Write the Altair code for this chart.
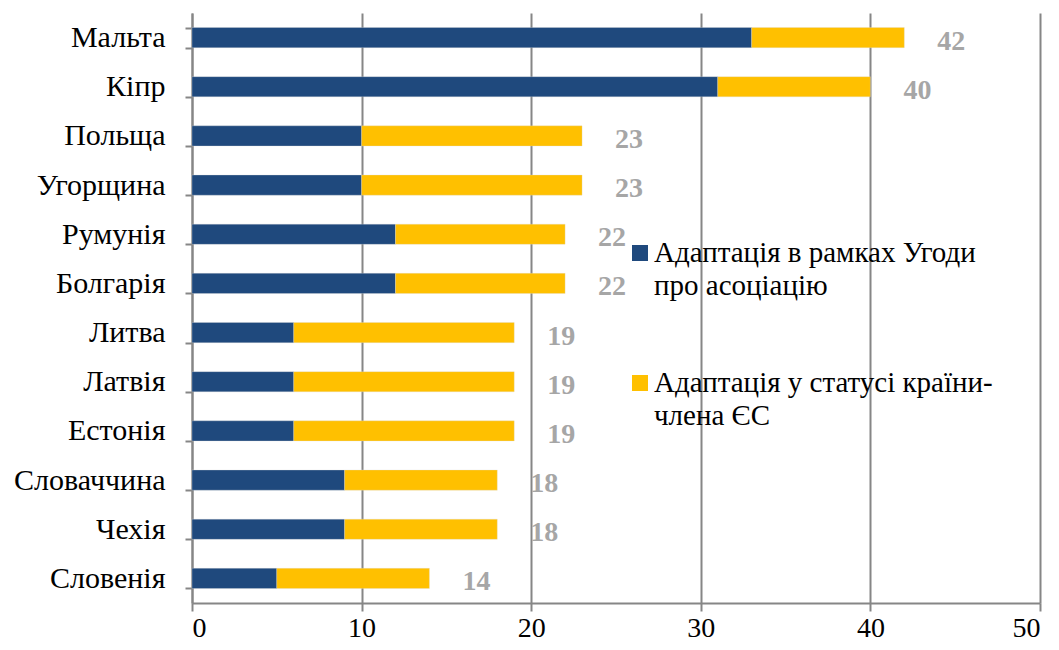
import altair as alt
import pandas as pd

countries = ["Мальта", "Кіпр", "Польща", "Угорщина", "Румунія", "Болгарія",
             "Литва", "Латвія", "Естонія", "Словаччина", "Чехія", "Словенія"]
assoc = [33, 31, 10, 10, 12, 12, 6, 6, 6, 9, 9, 5]
member = [9, 9, 13, 13, 10, 10, 13, 13, 13, 9, 9, 9]
totals = [42, 40, 23, 23, 22, 22, 19, 19, 19, 18, 18, 14]
series = ["Адаптація в рамках Угоди|про асоціацію",
          "Адаптація у статусі країни-|члена ЄС"]
colors = ["#1F497D", "#FFC000"]

rows = []
for c, a, m in zip(countries, assoc, member):
    rows.append({"country": c, "series": series[0], "value": a, "ord": 0})
    rows.append({"country": c, "series": series[1], "value": m, "ord": 1})
df = pd.DataFrame(rows)
tdf = pd.DataFrame({"country": countries, "total": totals})

FONT = "Liberation Serif"
MFONT = "Times New Roman"

yenc = alt.Y("country:N", sort=countries, title=None,
             scale=alt.Scale(paddingInner=0.59, paddingOuter=0.295),
             axis=alt.Axis(labelFont=FONT, labelFontSize=30, labelColor="#000000",
                           domainColor="#868686", domainWidth=2, tickColor="#868686",
                           tickWidth=2, tickSize=7, tickBand="extent", labelPadding=20,
                           labelLimit=300, grid=False))

bars = alt.Chart(df).mark_bar(stroke="#dddddd", strokeWidth=0.5, strokeOpacity=0.6).encode(
    x=alt.X("value:Q", stack="zero", title=None,
            scale=alt.Scale(domain=[0, 50], nice=False),
            axis=alt.Axis(values=[0, 10, 20, 30, 40, 50], labelFont=FONT, labelFontSize=28,
                          labelColor="#000000", domainColor="#868686", domainWidth=2,
                          tickColor="#868686", tickWidth=2, tickSize=8, grid=True,
                          gridColor="#868686", gridWidth=2, labelPadding=3)),
    y=yenc,
    color=alt.Color("series:N", sort=series,
                    scale=alt.Scale(domain=series, range=colors), legend=None),
    order=alt.Order("ord:Q"),
)

labels = alt.Chart(tdf).mark_text(font=MFONT, fontSize=28, fontWeight="bold", color="#A6A6A6",
                                  align="left", dx=33, dy=4).encode(
    x="total:Q",
    y=alt.Y("country:N", sort=countries),
    text="total:Q",
)

# legend drawn inside the plot area (symbol + two single-line labels per series)
legend_layers = []
sym_y = [240, 370]
line1_y = [249, 379]
LINE_GAP = 33
for i, (s, col) in enumerate(zip(series, colors)):
    ldf = pd.DataFrame({"label": [s]})
    sym = alt.Chart(ldf).mark_square(size=256, color=col, opacity=1).encode(
        x=alt.value(448), y=alt.value(sym_y[i]))
    legend_layers.append(sym)
    for j, line in enumerate(s.split("|")):
        tdf_line = pd.DataFrame({"label": [line]})
        txt = alt.Chart(tdf_line).mark_text(font=MFONT, fontSize=29, color="#000000",
                                            fontStyle="normal", fontWeight="normal",
                                            align="left", baseline="alphabetic").encode(
            x=alt.value(462), y=alt.value(line1_y[i] + j * LINE_GAP), text="label:N")
        legend_layers.append(txt)

chart = alt.layer(bars, labels, *legend_layers).properties(
    width=848, height=590,
    autosize=alt.AutoSizeParams(type="none"),
    padding={"left": 184, "top": 5, "right": 11, "bottom": 40},
).configure_view(stroke=None).configure_text(font=MFONT)

chart.save("out.html", embed_options={"renderer": "svg", "actions": False})
